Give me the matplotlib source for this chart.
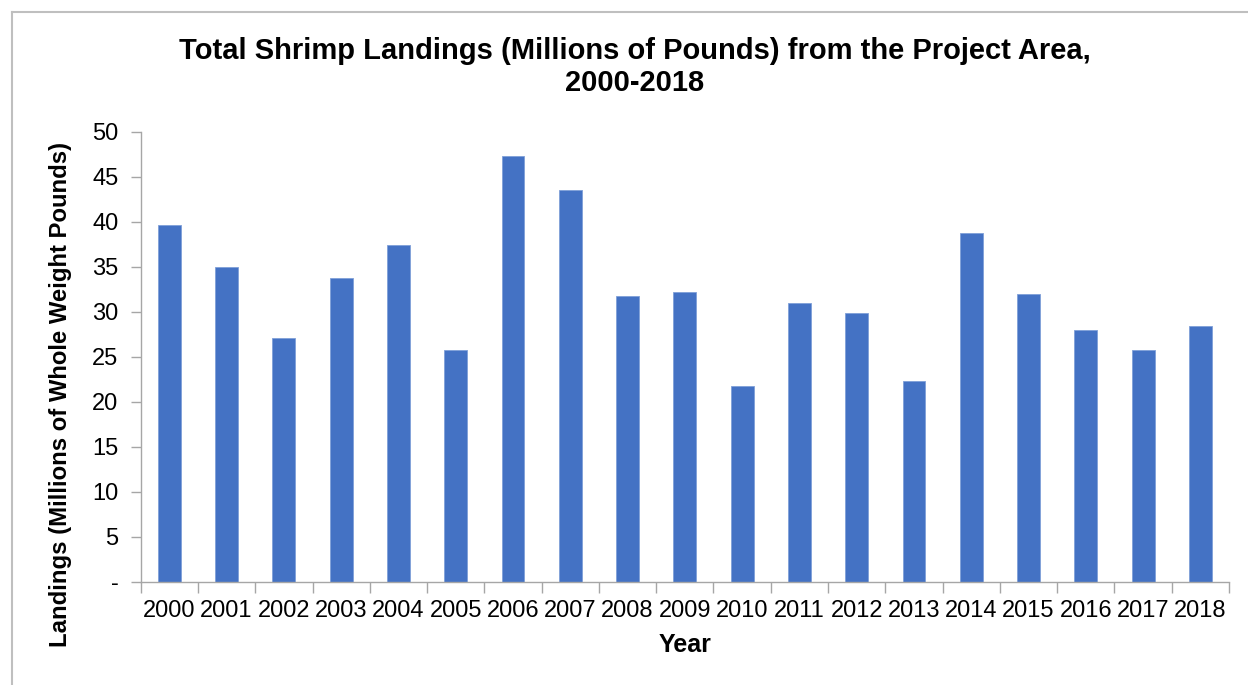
import matplotlib
matplotlib.use("Agg")
import matplotlib.pyplot as plt
from matplotlib.lines import Line2D

plt.rcParams['font.family'] = ['Liberation Sans', 'DejaVu Sans']

years = [str(y) for y in range(2000, 2019)]
landings = [39.6, 35.0, 27.1, 33.7, 37.4, 25.8, 47.3, 43.5, 31.8, 32.2,
            21.8, 31.0, 29.9, 22.3, 38.7, 32.0, 28.0, 25.8, 28.4]
y_ticks = [0, 5, 10, 15, 20, 25, 30, 35, 40, 45, 50]
y_tick_labels = ['-', '5', '10', '15', '20', '25', '30', '35', '40', '45', '50']

W, H = 1248, 685
fig = plt.figure(figsize=(W / 100, H / 100), dpi=100)
ax_left, ax_right, ax_top, ax_bottom = 140.7, 1229, 131.7, 581.7
ax = fig.add_axes([ax_left / W, 1 - ax_bottom / H, (ax_right - ax_left) / W,
                   (ax_bottom - ax_top) / H])

x = list(range(len(years)))
ax.bar(x, landings, width=0.4, color='#4472C4', edgecolor='#7F9FD8', linewidth=0.6)

ax.set_xlim(-0.5, len(years) - 0.5)
ax.set_ylim(0, 50)
ax.set_yticks(y_ticks)
ax.set_yticklabels(y_tick_labels, fontsize=17)
ax.set_xticks(x)
ax.set_xticklabels(years, fontsize=17)
ax.set_xticks([i - 0.5 for i in range(len(years) + 1)], minor=True)

spine_col = '#A6A6A6'
for s in ['top', 'right']:
    ax.spines[s].set_visible(False)
for s in ['left', 'bottom']:
    ax.spines[s].set_color(spine_col)
    ax.spines[s].set_linewidth(1.0)

ax.tick_params(axis='y', length=7, color=spine_col, width=1.0, pad=9)
ax.tick_params(axis='x', which='major', length=0, pad=13)
ax.tick_params(axis='x', which='minor', length=8, color=spine_col, width=1.0)

ax.set_xlabel('Year', fontsize=18, fontweight='bold')
ax.xaxis.set_label_coords(0.5, -(645 - ax_bottom) / (ax_bottom - ax_top), transform=ax.transAxes)
ax.xaxis.label.set_va('center')
ax.set_ylabel('Landings (Millions of Whole Weight Pounds)', fontsize=17.2, fontweight='bold')
ax.yaxis.set_label_coords(-(ax_left - 61) / (ax_right - ax_left),
                          (ax_bottom - 394) / (ax_bottom - ax_top))
ax.yaxis.label.set_va('center')

fig.text(635 / W, 1 - 67 / H,
         'Total Shrimp Landings (Millions of Pounds) from the Project Area,\n2000-2018',
         ha='center', va='center', fontsize=21, fontweight='bold', linespacing=1.15)

# outer frame line along the top and left edges
frame_col = '#BFBFBF'
fig.add_artist(Line2D([11.5 / W, 11.5 / W], [0, 1 - 11.5 / H], color=frame_col, lw=1.5))
fig.add_artist(Line2D([11.5 / W, 1], [1 - 11.5 / H, 1 - 11.5 / H], color=frame_col, lw=1.5))

fig.savefig('out.png', dpi=100)
